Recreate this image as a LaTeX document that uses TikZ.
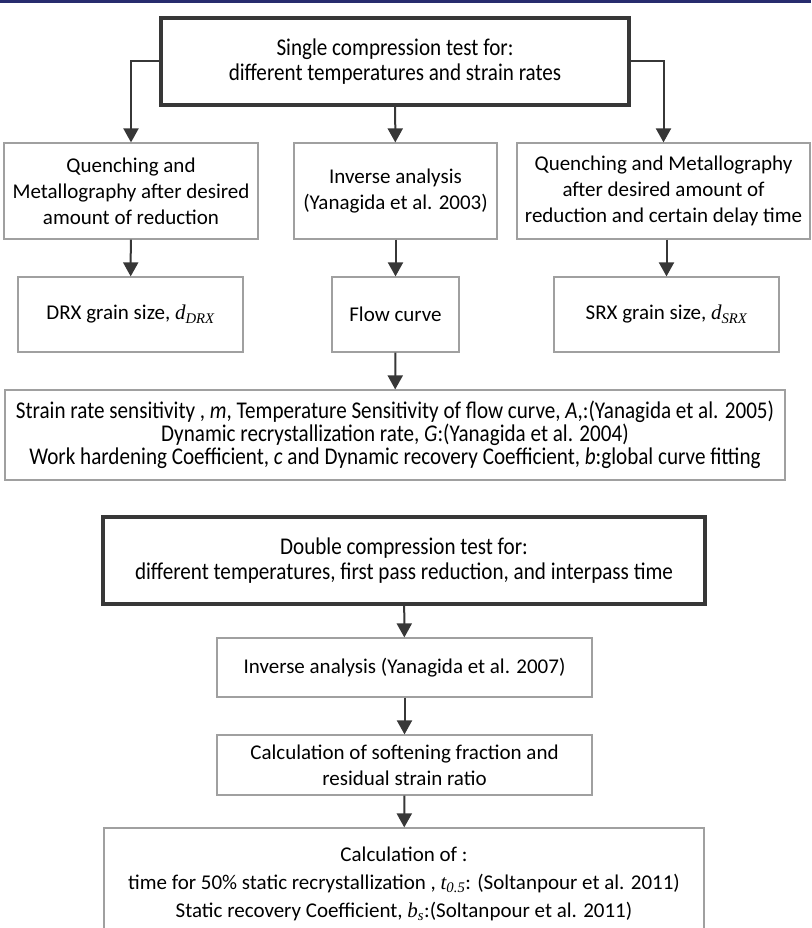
\documentclass[tikz,border=0pt]{standalone}
\usepackage{fontspec}
\setmainfont{Carlito}
\newfontfamily\narrowfont{Carlito}[FakeStretch=0.88]
\newfontfamily\timesfont{Liberation Serif}
\usetikzlibrary{arrows.meta}

\definecolor{barblue}{RGB}{40,44,110}
\definecolor{linegray}{RGB}{160,160,160}
\definecolor{darkline}{RGB}{55,55,55}
\newcommand{\symb}[2]{{\timesfont\itshape #1\textsubscript{#2}}}

\begin{document}
\begin{tikzpicture}[x=1pt, y=-1pt,
        every node/.style={font=\fontsize{21}{26}\selectfont, align=center, inner sep=0pt},
        thinbox/.style={draw=linegray, line width=1.2pt, fill=white},
        thickbox/.style={draw=darkline, line width=3.5pt, fill=white, font=\narrowfont\fontsize{24}{25}\selectfont},
        arr/.style={draw=darkline, line width=2pt, -{Triangle[width=15pt,length=14pt]}}]
        \useasboundingbox (0,0) rectangle (811,928);
        \clip (0,0) rectangle (811,928);
        \fill[barblue] (0,0) rectangle (811,3);

        % Single compression branch
        \node[thickbox, minimum width=468, minimum height=87] (single) at (395,61.5) {Single compression test for:\\different temperatures and strain rates};
        \node[thinbox, minimum width=254, minimum height=96] (quench1) at (131,191) {Quenching and\\Metallography after desired\\amount of reduction};
        \node[thinbox, minimum width=203, minimum height=96] (inverse1) at (395.5,191) {Inverse analysis\\(Yanagida et al. 2003)};
        \node[thinbox, minimum width=293, minimum height=96] (quench2) at (663.5,191) {Quenching and Metallography\\after desired amount of\\reduction and certain delay time};
        \node[thinbox, minimum width=225, minimum height=75] (drx) at (130.5,314.5) {DRX grain size, \symb{d}{DRX}};
        \node[thinbox, minimum width=127, minimum height=75] (flow) at (395.5,314.5) {Flow curve};
        \node[thinbox, minimum width=225, minimum height=75] (srx) at (666.5,314.5) {SRX grain size, \symb{d}{SRX}};
        \node[thinbox, minimum width=780, minimum height=90, font=\narrowfont\fontsize{24}{23}\selectfont] (params) at (395,435) {Strain rate sensitivity , \textit{m}, Temperature Sensitivity of flow curve, \textit{A},:(Yanagida et al. 2005)\\Dynamic recrystallization rate, \textit{G}:(Yanagida et al. 2004)\\Work hardening Coefficient, \textit{c} and Dynamic recovery Coefficient, \textit{b}:global curve fitting};

        \draw[arr] (single.west) -| (quench1.north);
        \draw[arr] (single) -- (inverse1);
        \draw[arr] (single.east) -| (quench2.north);
        \draw[arr] (quench1) -- (drx);
        \draw[arr] (inverse1) -- (flow);
        \draw[arr] (quench2.south -| srx.north) -- (srx.north);
        \draw[arr] (flow) -- (params);

        % Double compression branch
        \node[thickbox, minimum width=602, minimum height=87] (double) at (404,560.5) {Double compression test for:\\different temperatures, first pass reduction, and interpass time};
        \node[thinbox, minimum width=375, minimum height=59] (inverse2) at (404.5,667.5) {Inverse analysis (Yanagida et al. 2007)};
        \node[thinbox, minimum width=375, minimum height=60] (soften) at (404.5,765) {Calculation of softening fraction and\\residual strain ratio};
        \node[thinbox, minimum width=600, minimum height=112, font=\fontsize{21}{28}\selectfont] (calc) at (404,884) {Calculation of :\\time for 50\% static recrystallization , \symb{t}{0.5}: (Soltanpour et al. 2011)\\Static recovery Coefficient, \symb{b}{s}:(Soltanpour et al. 2011)};

        \draw[arr] (double) -- (inverse2);
        \draw[arr] (inverse2) -- (soften);
        \draw[arr] (soften) -- (calc);
\end{tikzpicture}
\end{document}
